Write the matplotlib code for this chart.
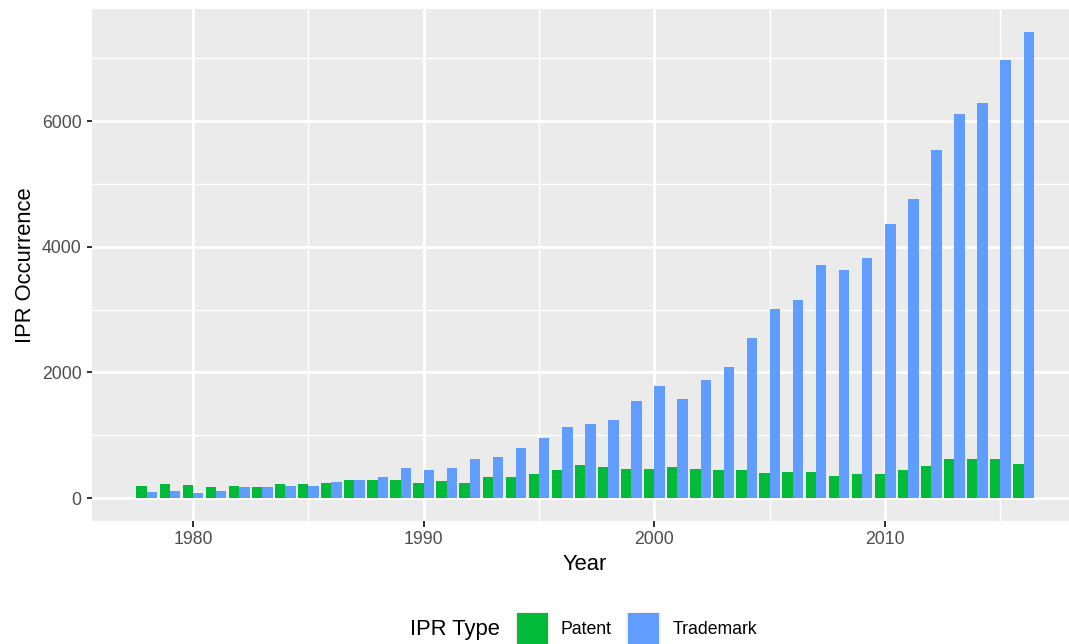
## IPR occurrence per year, patent vs trademark (ggplot-like dodged bars)

import numpy as np
import matplotlib
matplotlib.use('Agg')
from matplotlib import pyplot as plt
from matplotlib.patches import Rectangle

### Parameters ###
W_PX, H_PX = 1069, 644
DPI = 144
BAR_W = 0.45
PANEL_BG = '#EBEBEB'
GREEN = '#00BA38'
BLUE = '#619CFF'
##################

years = np.arange(1978, 2017)
patent = [196, 228, 212, 180, 196, 180, 228, 228, 244, 291,
          291, 291, 244, 265, 234, 329, 329, 377, 441, 520,
          489, 457, 457, 489, 457, 441, 446, 398, 414, 414,
          350, 382, 382, 446, 509, 621, 621, 621, 541]
trademark = [100, 116, 84, 116, 180, 180, 196, 196, 260, 291,
             339, 482, 450, 473, 616, 648, 791, 950, 1125, 1173,
             1237, 1539, 1778, 1571, 1874, 2081, 2546, 3008, 3151, 3708,
             3629, 3820, 4361, 4759, 5538, 6111, 6286, 6971, 7416]
series_names = ['Patent', 'Trademark']
x_ticks = [1980, 1990, 2000, 2010]
x_minor = [1975, 1985, 1995, 2005, 2015]
y_ticks = [0, 2000, 4000, 6000]
y_minor = [1000, 3000, 5000, 7000]

plt.rcParams['font.family'] = ['Liberation Sans', 'DejaVu Sans']

fig = plt.figure(figsize=(W_PX / DPI, H_PX / DPI), dpi=DPI)
fig.patch.set_facecolor('white')

# panel runs a bit past the right edge, like the reference crop
ax = fig.add_axes([91.6 / W_PX, (H_PX - 521.3) / H_PX, 987.2 / W_PX, 512.5 / H_PX])
ax.set_facecolor(PANEL_BG)
for s in ax.spines.values():
    s.set_visible(False)

ax.bar(years - BAR_W / 2, patent, width=BAR_W, color=GREEN, linewidth=0, zorder=3)
ax.bar(years + BAR_W / 2, trademark, width=BAR_W, color=BLUE, linewidth=0, zorder=3)

ax.set_xticks(x_ticks)
ax.set_xticks(x_minor, minor=True)
ax.set_yticks(y_ticks)
ax.set_yticks(y_minor, minor=True)

# limits with 5% expansion like ggplot (after ticks, set_ticks can widen them)
x_lo, x_hi = years[0] - BAR_W, years[-1] + BAR_W
ax.set_xlim(x_lo - 0.05 * (x_hi - x_lo), x_hi + 0.05 * (x_hi - x_lo))
y_hi = max(trademark)
ax.set_ylim(-0.05 * y_hi, 1.05 * y_hi)

ax.grid(which='major', color='white', linewidth=1.42, zorder=0)
ax.grid(which='minor', color='white', linewidth=0.71, zorder=0)
ax.set_axisbelow(True)

ax.tick_params(which='major', length=2.75, width=1.0, color='#333333',
               labelsize=8.8, labelcolor='#4D4D4D', pad=2.2)
ax.tick_params(which='minor', length=0)

ax.set_xlabel('Year', fontsize=11, color='black', labelpad=3)
ax.set_ylabel('IPR Occurrence', fontsize=11, color='black', labelpad=3)

## Legend at the bottom, drawn by hand
def px(x, y):
    return x / W_PX, 1 - y / H_PX

fig.text(*px(410, 629), 'IPR Type', fontsize=11, ha='left', va='center')
key_x = [515, 626]
text_x = [561, 673]
for kx, tx, col, name in zip(key_x, text_x, [GREEN, BLUE], series_names):
    fx, fy = px(kx, 646)
    fig.add_artist(Rectangle((fx, fy), 34.5 / W_PX, 34.5 / H_PX,
                             transform=fig.transFigure, facecolor='#F2F2F2',
                             edgecolor='none'))
    fx, fy = px(kx + 1.5, 644.5)
    fig.add_artist(Rectangle((fx, fy), 31.5 / W_PX, 31.5 / H_PX,
                             transform=fig.transFigure, facecolor=col,
                             edgecolor='none'))
    fig.text(*px(tx, 629), name, fontsize=8.8, ha='left', va='center')

fig.savefig('out.png', dpi=DPI)
